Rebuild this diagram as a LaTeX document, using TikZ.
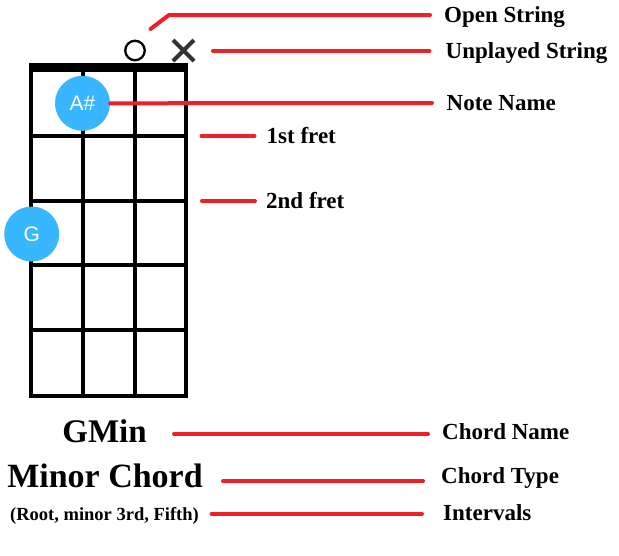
\documentclass[tikz,border=0pt]{standalone}
\usepackage{fontspec}
\setmainfont{Liberation Serif}
\newfontfamily\notefont{Liberation Sans}
\usetikzlibrary{positioning,shapes.misc}
\definecolor{leadred}{RGB}{237,32,39}
\definecolor{noteblue}{RGB}{56,182,255}
\definecolor{markgray}{RGB}{51,51,51}
\tikzset{
  fretline/.style={line width=4pt, black},
  leader/.style={line width=4pt, leadred, line cap=round},
  notedot/.style={circle, fill=noteblue, minimum size=55pt, inner sep=0pt,
                  text=white, font=\notefont\fontsize{21}{21}\selectfont},
  lab/.style={anchor=west, inner xsep=14pt, inner ysep=0pt, text height=15pt,
              text depth=0pt, font=\fontsize{23}{23}\selectfont\bfseries},
  chordtxt/.style={inner sep=0pt, text depth=0pt},
}

\begin{document}
\begin{tikzpicture}[x=1pt, y=-1pt]
    \useasboundingbox (0,0) rectangle (619,555);
    % fretboard
    \fill (28.7,62.5) rectangle (188,72);
    \foreach \sx in {31,83,135,186}
      \draw[fretline] (\sx,67) -- (\sx,398);
    \foreach \fy in {136,201,265,330,396}
      \draw[fretline] (28.7,\fy) -- (188,\fy);
    % string marks and notes
    \node[circle, draw=black, line width=2.3pt, minimum size=19.5pt, inner sep=0pt] (openmark) at (135,50.5) {};
    \node[cross out, draw=markgray, line width=4pt, minimum size=17pt, inner sep=0pt] (mutemark) at (183.5,50.5) {};
    \node[notedot] (asharp) at (82.5,103.3) {A\#};
    \node[notedot] (gnote) at (31.7,234) {G};
    % chord text
    \node[chordtxt, text height=22pt, font=\fontsize{33}{33}\selectfont\bfseries] (gmin) at (104.5,431.5) {GMin};
    \node[chordtxt, text height=22.5pt, font=\fontsize{34}{34}\selectfont\bfseries] (chordtype) at (105,476) {Minor Chord};
    \node[chordtxt, text height=12pt, font=\fontsize{18.5}{18.5}\selectfont\bfseries] (intervals) at (104.5,514) {(Root, minor 3rd, Fifth)};
    % labels
    \node[lab] (openlab) at (430,15) {Open String};
    \node[lab, inner xsep=16pt] (mutelab) at (429.5,51) {Unplayed String};
    \node[lab, inner xsep=14.5pt] (notelab) at (432,103) {Note Name};
    \node[lab, inner xsep=12pt] (fretonelab) at (254.5,136) {1st fret};
    \node[lab, inner xsep=11pt] (frettwolab) at (255,201) {2nd fret};
    \node[lab] (namelab) at (428,432) {Chord Name};
    \node[lab, inner xsep=18pt] (typelab) at (423,475.5) {Chord Type};
    \node[lab, inner xsep=21pt] (intlab) at (422,513) {Intervals};
    % leader lines
    \coordinate (openstart) at (150.5,29);
    \coordinate (mutestart) at (213,51);
    \coordinate (fretonestart) at (201.5,136);
    \coordinate (frettwostart) at (202,201);
    \coordinate (namestart) at (174,434);
    \coordinate (typestart) at (223,481);
    \coordinate (intstart) at (211.5,514);
    \draw[leader] (openstart) -- (169,15) -- (openlab.west);
    \draw[leader] (mutestart) -- (mutelab.west);
    \draw[leader] (asharp.east) -- (notelab.west);
    \draw[leader] (fretonestart) -- (fretonelab.west);
    \draw[leader] (frettwostart) -- (frettwolab.west);
    \draw[leader] (namestart) -- (namestart -| namelab.west);
    \draw[leader] (typestart) -- (typestart -| typelab.west);
    \draw[leader] (intstart) -- (intstart -| intlab.west);
\end{tikzpicture}
\end{document}
